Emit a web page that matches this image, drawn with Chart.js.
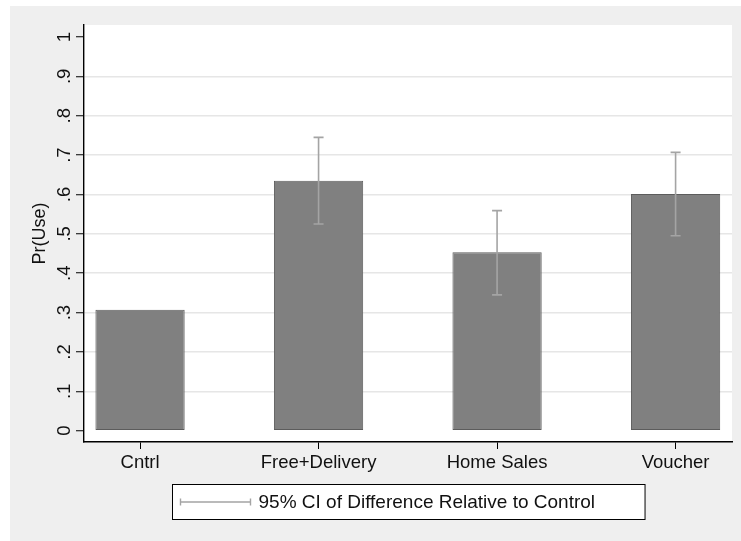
<!DOCTYPE html>
<html>
<head>
<meta charset="utf-8">
<script src="https://cdn.jsdelivr.net/npm/chart.js@4/dist/chart.umd.min.js"></script>
<style>
  html, body { margin: 0; padding: 0; background: #ffffff; }
  #wrap { width: 741px; height: 541px; }
</style>
</head>
<body>
<div id="wrap"><canvas id="c" width="741" height="541"></canvas></div>
<script>
// Share using the product, by treatment arm
const categories = ['Cntrl', 'Free+Delivery', 'Home Sales', 'Voucher'];
const pUse = [0.307, 0.635, 0.453, 0.601];
// 95% CI of the difference relative to control (none for control itself)
const ciLow = [null, 0.525, 0.345, 0.495];
const ciHigh = [null, 0.745, 0.559, 0.707];
const yTickValues = [0, 0.1, 0.2, 0.3, 0.4, 0.5, 0.6, 0.7, 0.8, 0.9, 1];
const yTickLabels = ['0', '.1', '.2', '.3', '.4', '.5', '.6', '.7', '.8', '.9', '1'];
const yTitle = 'Pr(Use)';
const legendLabel = '95% CI of Difference Relative to Control';

const FONT = '"Liberation Sans", Arial, Helvetica, sans-serif';
const TEXT = '#111111';
const CI_COLOR = '#a4a4a4';

// Light gray page frame and white plot region
const backdrop = {
  id: 'backdrop',
  beforeDraw(chart) {
    const { ctx, chartArea: a } = chart;
    ctx.save();
    ctx.fillStyle = '#ffffff';
    ctx.fillRect(0, 0, chart.width, chart.height);
    ctx.fillStyle = '#efefef';
    ctx.fillRect(10, 6, chart.width - 10, chart.height - 6);
    ctx.fillStyle = '#ffffff';
    ctx.fillRect(a.left, a.top, a.right - a.left, a.bottom - a.top);
    ctx.restore();
  }
};

// Capped confidence-interval spikes
const ciBars = {
  id: 'ciBars',
  afterDatasetsDraw(chart) {
    const { ctx, scales: { x, y } } = chart;
    ctx.save();
    ctx.strokeStyle = CI_COLOR;
    ctx.lineWidth = 1.6;
    const cap = 5;
    categories.forEach((c, i) => {
      if (ciLow[i] == null) return;
      const px = x.getPixelForValue(i);
      const lo = y.getPixelForValue(ciLow[i]);
      const hi = y.getPixelForValue(ciHigh[i]);
      ctx.beginPath();
      ctx.moveTo(px, lo); ctx.lineTo(px, hi);
      ctx.moveTo(px - cap, lo); ctx.lineTo(px + cap, lo);
      ctx.moveTo(px - cap, hi); ctx.lineTo(px + cap, hi);
      ctx.stroke();
    });
    ctx.restore();
  }
};

// Boxed legend below the axis with an error-bar key
const ciLegend = {
  id: 'ciLegend',
  afterDraw(chart) {
    const { ctx, chartArea: a } = chart;
    ctx.save();
    ctx.font = '19px ' + FONT;
    const tw = ctx.measureText(legendLabel).width;
    const keyW = 70, padL = 8, gap = 8, padR = 50;
    const w = padL + keyW + gap + tw + padR;
    const h = 35;
    const cx = (a.left + a.right) / 2;
    const left = Math.round(cx - w / 2) + 0.5;
    const top = 484.5;
    ctx.fillStyle = '#ffffff';
    ctx.fillRect(left, top, w, h);
    ctx.strokeStyle = '#000000';
    ctx.lineWidth = 1;
    ctx.strokeRect(left, top, w, h);
    const my = top + h / 2;
    ctx.strokeStyle = CI_COLOR;
    ctx.lineWidth = 1.4;
    ctx.beginPath();
    const k0 = left + padL, k1 = k0 + keyW;
    ctx.moveTo(k0, my); ctx.lineTo(k1, my);
    ctx.moveTo(k0, my - 3.5); ctx.lineTo(k0, my + 3.5);
    ctx.moveTo(k1, my - 3.5); ctx.lineTo(k1, my + 3.5);
    ctx.stroke();
    ctx.fillStyle = TEXT;
    ctx.textBaseline = 'middle';
    ctx.textAlign = 'left';
    ctx.fillText(legendLabel, k1 + gap, my + 1);
    ctx.restore();
  }
};

new Chart(document.getElementById('c'), {
  type: 'bar',
  data: {
    datasets: [{
      data: categories.map((c, i) => ({ x: i, y: pUse[i] })),
      backgroundColor: '#808080',
      borderColor: '#5c5c5c',
      borderWidth: 1,
      borderSkipped: false,
      barPercentage: 0.5,
      categoryPercentage: 1
    }]
  },
  options: {
    responsive: false,
    animation: false,
    devicePixelRatio: 1,
    layout: { padding: { left: 10, top: 25, right: 9, bottom: 59 } },
    plugins: { legend: { display: false }, tooltip: { enabled: false } },
    scales: {
      x: {
        type: 'linear',
        offset: false,
        min: -0.314,
        max: 3.316,
        afterBuildTicks: s => { s.ticks = categories.map((c, i) => ({ value: i })); },
        afterFit: s => { s.height = 40; },
        border: { display: true, color: '#000000', width: 1.4 },
        grid: { offset: false, drawOnChartArea: false, drawTicks: true, tickLength: 7, tickColor: '#000000', tickWidth: 1 },
        ticks: {
          callback: (v, i) => categories[i],
          color: TEXT,
          font: { family: FONT, size: 18.5 },
          padding: 3,
          maxRotation: 0,
          autoSkip: false
        }
      },
      y: {
        min: -0.0287,
        max: 1.0305,
        afterBuildTicks: s => { s.ticks = yTickValues.map(v => ({ value: v })); },
        afterFit: s => { s.width = 74; },
        border: { display: true, color: '#000000', width: 1.4 },
        grid: {
          color: ctx => (ctx.tick && (ctx.tick.value === 0 || ctx.tick.value === 1)) ? 'rgba(0,0,0,0)' : '#e6e6e6',
          lineWidth: 1.5,
          drawTicks: true,
          tickLength: 8,
          tickColor: '#000000',
          tickWidth: 1
        },
        ticks: {
          callback: (v, i) => yTickLabels[i],
          color: TEXT,
          font: { family: FONT, size: 18.5 },
          minRotation: 90,
          maxRotation: 90,
          crossAlign: 'center',
          padding: 3.5,
          autoSkip: false
        },
        title: {
          display: true,
          text: yTitle,
          color: TEXT,
          font: { family: FONT, size: 18 },
          padding: { top: 19, bottom: 0 }
        }
      }
    }
  },
  plugins: [backdrop, ciBars, ciLegend]
});
</script>
</body>
</html>
